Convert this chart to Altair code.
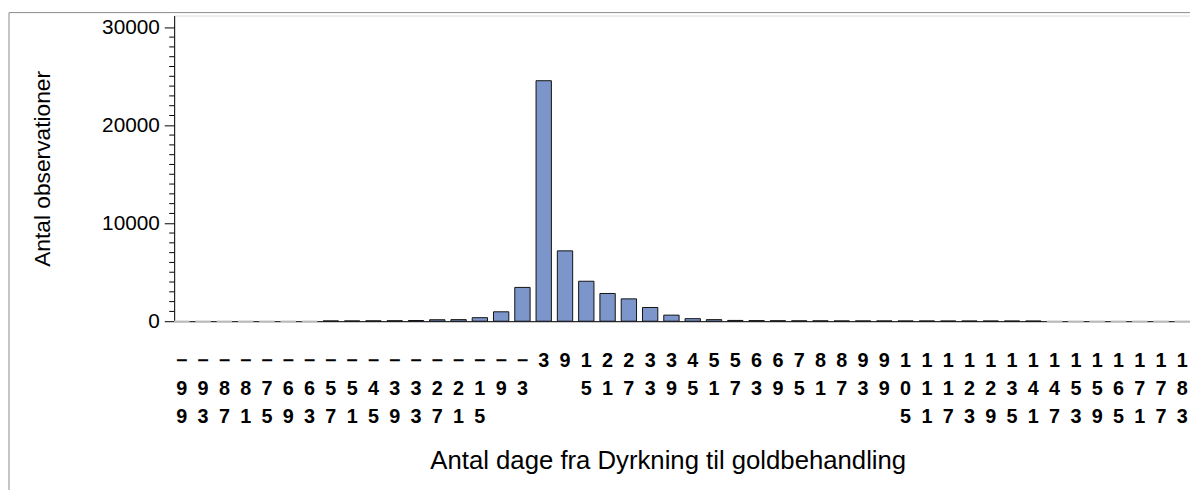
import altair as alt
import pandas as pd

# Category midpoints (days) as printed on the x axis
categories = ["-99", "-93", "-87", "-81", "-75", "-69", "-63", "-57", "-51", "-45",
              "-39", "-33", "-27", "-21", "-15", "-9", "-3", "3", "9", "15",
              "21", "27", "33", "39", "45", "51", "57", "63", "69", "75",
              "81", "87", "93", "99", "105", "111", "117", "123", "129", "135",
              "141", "147", "153", "159", "165", "171", "177", "183"]

counts = [0, 0, 0, 0, 0, 0, 0, 30, 30, 40,
          50, 70, 150, 160, 360, 960, 3450, 24550, 7180, 4080,
          2830, 2280, 1400, 620, 260, 160, 80, 60, 50, 40,
          40, 30, 30, 30, 25, 25, 20, 20, 20, 20,
          15, 0, 0, 0, 0, 0, 0, 0]

major_ticks = [0, 10000, 20000, 30000]
minor_ticks = [1000, 2000, 3000, 4000, 5000, 6000, 7000, 8000, 9000,
               11000, 12000, 13000, 14000, 15000, 16000, 17000, 18000, 19000,
               21000, 22000, 23000, 24000, 25000, 26000, 27000, 28000, 29000]

df = pd.DataFrame({"dage": categories, "antal": counts})
df_minor = pd.DataFrame({"antal": minor_ticks})
df_frame = pd.DataFrame({"a": [0]})

FONT = "Liberation Sans"
y_scale = alt.Scale(domain=[0, 31200], nice=False, zero=True)
y_axis = alt.Axis(title="Antal observationer", values=major_ticks, format="d",
                  grid=False, tickSize=10, tickColor="black",
                  labelFont=FONT, labelFontSize=21, labelColor="black",
                  labelPadding=5,
                  titleFont=FONT, titleFontSize=23, titleFontWeight="normal",
                  titleColor="black", titlePadding=48,
                  domainColor="black", domainWidth=1)

frame = alt.Chart(df_frame).mark_rect(filled=False, stroke="#8a8a8a", strokeWidth=1).encode(
    x=alt.value(-167), x2=alt.value(1500), y=alt.value(-3), y2=alt.value(800)
)

bars = alt.Chart(df).mark_bar(fill="#7C96CB", strokeWidth=1).encode(
    x=alt.X("dage:N", sort=categories,
            scale=alt.Scale(paddingInner=0.28, paddingOuter=0),
            axis=alt.Axis(title="Antal dage fra Dyrkning til goldbehandling",
                          labelAngle=0, ticks=False,
                          labelExpr="split(replace(datum.label, '-', '\u2212'), '')",
                          labelBaseline="top", labelAlign="center",
                          labelLineHeight=28, labelPadding=30,
                          labelFont=FONT, labelFontWeight="bold", labelFontSize=20,
                          labelColor="black", labelOverlap=False, labelBound=False,
                          labelFlush=False,
                          titleFont=FONT, titleFontSize=26, titleFontWeight="normal",
                          titleColor="black", titlePadding=22, titleX=499,
                          domainColor="black", domainWidth=1)),
    y=alt.Y("antal:Q", scale=y_scale, axis=y_axis),
    stroke=alt.condition("datum.antal > 0", alt.value("#111111"), alt.value("#c8c8c8")),
)

minor = alt.Chart(df_minor).mark_rule(color="black", strokeWidth=1).encode(
    y=alt.Y("antal:Q", scale=y_scale, axis=y_axis),
    x=alt.value(0), x2=alt.value(-5),
)

chart = alt.layer(frame, bars, minor).properties(
    width=1027, height=309,
    padding={"left": 168, "top": 5, "right": 0, "bottom": 168},
    autosize="none",
).configure_view(stroke="black", strokeWidth=1).configure(background="white")

chart.save("out.html", embed_options={"renderer": "svg", "actions": False})
